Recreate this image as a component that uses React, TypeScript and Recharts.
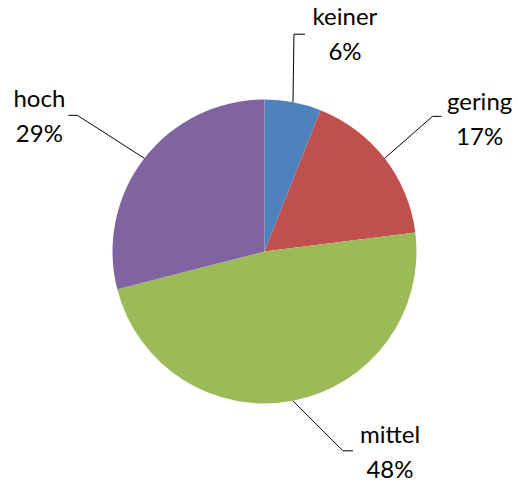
import { Pie, PieChart, Cell } from "recharts"

const categories = ["keiner", "gering", "mittel", "hoch"]
const shares = [6, 17, 48, 29]
const colors = ["#4F81BD", "#C0504D", "#9BBB59", "#8064A2"]

// leader line elbow + text placement, relative to the slice edge point
const labelLayout = [
  { elbow: [1, -68], tail: 11, text: [52, -77] },
  { elbow: [48, -42], tail: 9, text: [95, -48] },
  { elbow: [50, 50], tail: 10, text: [97, 42] },
  { elbow: [-67, -43], tail: -9, text: [-105, -51] },
]

const RAD = Math.PI / 180

function renderLabel(props: any) {
  const { cx, cy, midAngle, outerRadius, index } = props
  const x0 = cx + outerRadius * Math.cos(-midAngle * RAD)
  const y0 = cy + outerRadius * Math.sin(-midAngle * RAD)
  const l = labelLayout[index]
  const ex = x0 + l.elbow[0]
  const ey = y0 + l.elbow[1]
  const tx = x0 + l.text[0]
  const ty = y0 + l.text[1]
  return (
    <g key={`lbl-${index}`}>
      <polyline
        points={`${x0},${y0} ${ex},${ey} ${ex + l.tail},${ey}`}
        fill="none"
        stroke="#000"
        strokeWidth={1}
      />
      <text x={tx} y={ty} textAnchor="middle" fontSize={24} fill="#000" fontFamily="Lato">
        {categories[index]}
      </text>
      <text x={tx} y={ty + 35} textAnchor="middle" fontSize={24} fill="#000" fontFamily="Lato">
        {shares[index]}%
      </text>
    </g>
  )
}

export default function App() {
  const data = categories.map((name, i) => ({ name, value: shares[i] }))
  return (
    <div style={{ position: "absolute", left: 0, top: 0, width: 518, height: 484, background: "#fff" }}>
      <PieChart width={518} height={484} margin={{ top: 0, right: 0, bottom: 0, left: 0 }}>
        <Pie
          data={data}
          dataKey="value"
          cx={264.5}
          cy={251.5}
          outerRadius={152}
          startAngle={90}
          endAngle={-270}
          stroke="none"
          label={renderLabel}
          labelLine={false}
          isAnimationActive={false}
        >
          {data.map((d, i) => (
            <Cell key={d.name} fill={colors[i]} />
          ))}
        </Pie>
      </PieChart>
    </div>
  )
}
